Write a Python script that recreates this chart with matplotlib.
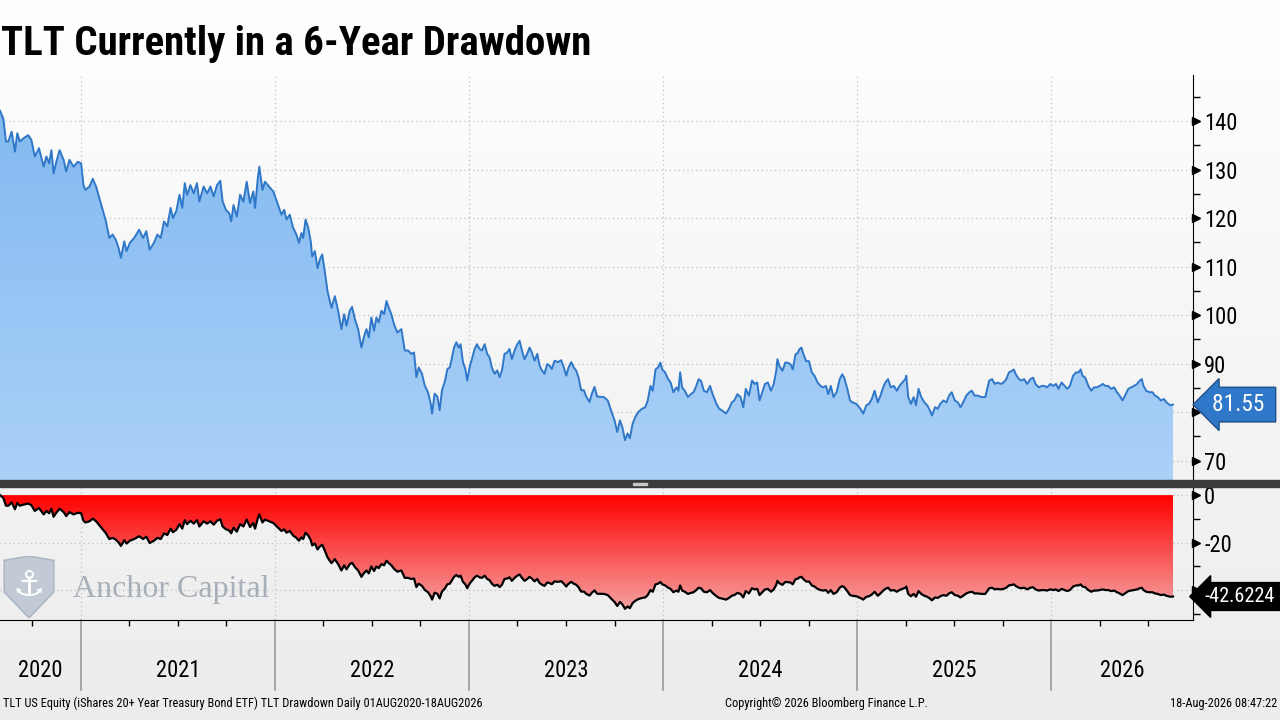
import matplotlib
matplotlib.use("Agg")
import matplotlib.pyplot as plt
import matplotlib.transforms as mtransforms
from matplotlib import font_manager
from matplotlib.colors import LinearSegmentedColormap
from matplotlib.patches import Rectangle, Polygon
from matplotlib.ticker import MultipleLocator, FixedLocator
import numpy as np

# ---- data (fractional year, TLT close) ----
dates = [
    2020.584, 2020.601, 2020.615, 2020.627, 2020.644, 2020.661, 2020.673, 2020.686, 2020.703, 2020.729,
    2020.746, 2020.763, 2020.785, 2020.809, 2020.823, 2020.837, 2020.849, 2020.860, 2020.874, 2020.891,
    2020.912, 2020.925, 2020.942, 2020.963, 2020.985,
    2021.002, 2021.014, 2021.024, 2021.045, 2021.062, 2021.079, 2021.096, 2021.113, 2021.130, 2021.147,
    2021.164, 2021.181, 2021.195, 2021.207, 2021.224, 2021.236, 2021.253, 2021.275, 2021.301, 2021.321,
    2021.338, 2021.355, 2021.377, 2021.395, 2021.412, 2021.429, 2021.446, 2021.463, 2021.475, 2021.492,
    2021.509, 2021.523, 2021.536, 2021.548, 2021.565, 2021.582, 2021.599, 2021.611, 2021.633, 2021.651,
    2021.668, 2021.685, 2021.702, 2021.719, 2021.731, 2021.748, 2021.765, 2021.775, 2021.787, 2021.804,
    2021.821, 2021.838, 2021.855, 2021.872, 2021.889, 2021.898, 2021.912, 2021.920, 2021.936, 2021.949,
    2021.970, 2021.992,
    2022.034, 2022.048, 2022.060, 2022.077, 2022.094, 2022.111, 2022.124, 2022.137, 2022.146, 2022.158,
    2022.172, 2022.185, 2022.192, 2022.206, 2022.220, 2022.232, 2022.244, 2022.257, 2022.271, 2022.283,
    2022.292, 2022.309, 2022.326, 2022.343, 2022.357, 2022.369, 2022.386, 2022.398, 2022.412, 2022.429,
    2022.446, 2022.460, 2022.472, 2022.484, 2022.497, 2022.511, 2022.523, 2022.535, 2022.549, 2022.563,
    2022.575, 2022.587, 2022.600, 2022.614, 2022.631, 2022.652, 2022.669, 2022.686, 2022.703, 2022.717,
    2022.729, 2022.741, 2022.758, 2022.772, 2022.789, 2022.803, 2022.810, 2022.823, 2022.837, 2022.849,
    2022.861, 2022.875, 2022.889, 2022.901, 2022.909, 2022.923, 2022.935, 2022.947, 2022.957, 2022.969,
    2022.981, 2022.991,
    2023.003, 2023.015, 2023.029, 2023.041, 2023.055, 2023.067, 2023.081, 2023.094, 2023.106, 2023.118,
    2023.132, 2023.146, 2023.158, 2023.170, 2023.183, 2023.197, 2023.209, 2023.221, 2023.235, 2023.249,
    2023.261, 2023.273, 2023.286, 2023.300, 2023.312, 2023.324, 2023.338, 2023.352, 2023.364, 2023.376,
    2023.389, 2023.403, 2023.415, 2023.427, 2023.441, 2023.458, 2023.475, 2023.489, 2023.501, 2023.513,
    2023.527, 2023.540, 2023.552, 2023.564, 2023.578, 2023.592, 2023.604, 2023.621, 2023.633, 2023.647,
    2023.660, 2023.695, 2023.715, 2023.735, 2023.750, 2023.764, 2023.778, 2023.790, 2023.804, 2023.817,
    2023.829, 2023.843, 2023.857, 2023.872, 2023.892, 2023.908, 2023.921, 2023.935, 2023.947, 2023.961,
    2023.974, 2023.986, 2023.996,
    2024.010, 2024.026, 2024.039, 2024.053, 2024.069, 2024.079, 2024.088, 2024.098, 2024.112, 2024.128,
    2024.143, 2024.157, 2024.171, 2024.183, 2024.196, 2024.210, 2024.226, 2024.242, 2024.255, 2024.275,
    2024.289, 2024.305, 2024.324, 2024.340, 2024.354, 2024.367, 2024.383, 2024.399, 2024.413, 2024.426,
    2024.442, 2024.458, 2024.472, 2024.485, 2024.497, 2024.511, 2024.525, 2024.540, 2024.556, 2024.570,
    2024.583, 2024.589, 2024.599, 2024.615, 2024.629, 2024.642, 2024.658, 2024.668, 2024.682, 2024.694,
    2024.701, 2024.713, 2024.721, 2024.737, 2024.752, 2024.766, 2024.780, 2024.796, 2024.811, 2024.825,
    2024.839, 2024.851, 2024.864, 2024.878, 2024.894, 2024.910, 2024.923, 2024.933, 2024.949, 2024.963,
    2024.976, 2024.996,
    2025.016, 2025.031, 2025.047, 2025.061, 2025.075, 2025.090, 2025.106, 2025.120, 2025.134, 2025.145,
    2025.159, 2025.173, 2025.189, 2025.204, 2025.218, 2025.232, 2025.248, 2025.253, 2025.263, 2025.277,
    2025.291, 2025.303, 2025.316, 2025.330, 2025.346, 2025.361, 2025.375, 2025.385, 2025.401, 2025.415,
    2025.428, 2025.444, 2025.460, 2025.473, 2025.487, 2025.503, 2025.519, 2025.532, 2025.546, 2025.562,
    2025.578, 2025.591, 2025.605, 2025.621, 2025.640, 2025.660, 2025.670, 2025.680, 2025.695, 2025.709,
    2025.723, 2025.739, 2025.754, 2025.768, 2025.782, 2025.798, 2025.807, 2025.817, 2025.833, 2025.847,
    2025.860, 2025.876, 2025.892, 2025.906, 2025.919, 2025.935, 2025.951, 2025.965, 2025.978, 2025.994,
    2026.010, 2026.024, 2026.037, 2026.053, 2026.069, 2026.082, 2026.096, 2026.112, 2026.128, 2026.141,
    2026.151, 2026.161, 2026.175, 2026.191, 2026.206, 2026.220, 2026.234, 2026.250, 2026.265, 2026.279,
    2026.293, 2026.308, 2026.324, 2026.338, 2026.352, 2026.367, 2026.383, 2026.397, 2026.411, 2026.426,
    2026.442, 2026.456, 2026.466, 2026.475, 2026.489, 2026.505, 2026.521, 2026.534, 2026.548, 2026.564,
    2026.580, 2026.593, 2026.613, 2026.627,
]
tlt_price = [
    142.13, 140.5, 135.8, 135.8, 137.8, 133.7, 137.5, 135.8, 136.4, 137.1,
    136.1, 132.7, 134.4, 130.6, 132.7, 131.3, 134.0, 129.2, 131.6, 134.0,
    132.0, 129.6, 132.0, 130.6, 131.6,
    131.3, 126.8, 125.8, 126.5, 128.1, 126.5, 124.1, 121.7, 119.3, 115.9,
    116.6, 115.5, 113.8, 111.8, 115.2, 113.2, 114.9, 115.9, 117.6, 115.9,
    117.3, 113.5, 114.9, 116.6, 115.9, 119.3, 118.3, 122.1, 120.0, 121.4,
    124.8, 122.1, 127.2, 124.8, 126.8, 125.1, 127.2, 123.4, 126.5, 125.1,
    126.5, 124.5, 126.8, 127.7, 123.4, 121.7, 121.0, 119.3, 122.7, 120.3,
    124.8, 123.4, 127.5, 123.1, 125.5, 122.1, 128.2, 130.6, 125.8, 127.5,
    126.5, 125.5,
    120.7, 121.7, 119.7, 120.7, 118.0, 116.6, 114.9, 116.9, 115.9, 119.7,
    118.0, 115.2, 112.1, 113.2, 109.7, 111.5, 112.5, 109.1, 105.0, 102.9,
    101.5, 103.9, 100.9, 97.1, 100.2, 97.8, 100.9, 101.7, 99.2, 97.1,
    93.3, 95.7, 97.1, 95.4, 99.5, 96.8, 99.5, 98.5, 100.9, 100.2,
    102.9, 101.5, 100.2, 98.1, 96.4, 97.1, 92.7, 92.7, 92.0, 92.3,
    87.2, 89.2, 87.9, 85.5, 84.1, 81.7, 79.7, 83.8, 83.2, 80.4,
    84.5, 86.2, 88.9, 89.2, 90.6, 93.3, 94.4, 93.3, 94.0, 90.3,
    88.9, 86.5,
    89.2, 90.9, 93.0, 94.0, 93.0, 92.7, 94.0, 92.0, 91.3, 89.2,
    87.9, 88.6, 87.2, 88.6, 92.0, 92.3, 93.0, 90.9, 92.7, 94.0,
    94.7, 92.7, 90.9, 92.0, 93.3, 92.3, 90.6, 92.0, 89.6, 88.6,
    87.9, 89.9, 89.6, 88.9, 90.6, 90.3, 90.7, 89.2, 87.5, 89.2,
    90.3, 89.2, 88.6, 87.2, 84.5, 84.5, 83.2, 82.1, 83.8, 85.2,
    83.2, 83.1, 82.4, 80.0, 78.3, 75.9, 78.3, 76.9, 74.2, 75.6,
    74.6, 77.6, 79.0, 80.0, 80.7, 81.0, 82.4, 85.4, 84.4, 88.8,
    89.2, 90.2, 88.8,
    88.2, 86.8, 86.1, 84.1, 85.1, 84.4, 88.2, 85.1, 84.4, 83.1,
    83.7, 84.1, 85.4, 86.8, 86.4, 84.4, 84.1, 85.4, 83.7, 81.7,
    80.7, 80.3, 79.7, 80.7, 82.0, 82.4, 83.7, 83.1, 81.0, 84.8,
    83.4, 86.5, 85.8, 86.1, 82.4, 84.1, 85.8, 86.1, 84.4, 85.8,
    88.5, 90.9, 89.5, 88.5, 90.2, 90.2, 89.8, 88.8, 91.9, 92.2,
    92.9, 93.3, 92.2, 90.5, 90.5, 88.2, 87.5, 86.1, 85.4, 85.1,
    85.4, 83.7, 85.4, 83.1, 84.1, 86.8, 87.8, 87.1, 84.8, 82.4,
    82.0, 81.7,
    80.7, 79.7, 81.4, 81.7, 82.7, 84.4, 82.0, 83.4, 85.1, 86.1,
    86.8, 85.1, 85.4, 84.4, 85.4, 86.1, 86.8, 87.5, 83.1, 81.7,
    83.1, 81.4, 84.8, 83.1, 82.0, 81.4, 80.3, 79.3, 81.0, 80.7,
    81.7, 82.4, 82.0, 83.4, 84.1, 82.4, 82.0, 81.0, 82.0, 83.4,
    84.1, 84.4, 83.4, 83.4, 83.1, 83.1, 84.8, 86.5, 86.8, 85.8,
    86.1, 85.8, 86.1, 86.8, 88.2, 88.5, 88.8, 87.8, 86.8, 86.5,
    86.8, 85.8, 86.8, 87.1, 85.8, 85.1, 85.4, 85.4, 85.1, 85.8,
    85.4, 85.8, 84.8, 86.1, 85.4, 84.8, 85.4, 87.5, 88.2, 88.2,
    88.8, 87.5, 87.1, 85.4, 84.4, 85.1, 85.1, 85.4, 85.8, 85.4,
    85.4, 84.8, 85.1, 84.1, 83.4, 82.4, 83.7, 84.8, 85.1, 85.4,
    85.8, 86.5, 86.8, 85.4, 84.4, 84.1, 84.1, 83.4, 83.1, 82.4,
    82.7, 82.0, 81.4, 81.55,
]
last_price_label = "81.55"
last_drawdown_label = "-42.6224"
year_starts = [2021, 2022, 2023, 2024, 2025, 2026]
year_labels = ["2020", "2021", "2022", "2023", "2024", "2025", "2026"]
price_ticks = [70, 80, 90, 100, 110, 120, 130, 140]
price_labels = ["70", "", "90", "100", "110", "120", "130", "140"]
dd_ticks = [0, -20, -40]
dd_labels = ["0", "-20", ""]

title = "TLT Currently in a 6-Year Drawdown"
footer_left = "TLT US Equity (iShares 20+ Year Treasury Bond ETF) TLT Drawdown Daily 01AUG2020-18AUG2026"
footer_mid = "Copyright\u00a9 2026 Bloomberg Finance L.P."
footer_right = "18-Aug-2026 08:47:22"

x = np.array(dates)
price = np.array(tlt_price)
drawdown = (price / np.maximum.accumulate(price) - 1) * 100

# ---- fonts: prefer a narrow face if one is installed ----
names = {f.name for f in font_manager.fontManager.ttflist}
SANS = "Liberation Sans" if "Liberation Sans" in names else "DejaVu Sans"
NARROW = SANS
for cand in ["Liberation Sans Narrow", "Roboto Condensed", "Open Sans Condensed",
             "DejaVu Sans Condensed", "Noto Sans Condensed"]:
    if cand in names:
        NARROW = cand
        break
SERIF = "Liberation Serif" if "Liberation Serif" in names else "DejaVu Serif"
is_narrow = NARROW != SANS
k = 1.12 if is_narrow else 1.0   # narrow faces can be set a little larger

W, H = 1280, 720
def fx(px):
    return px / W
def fy(py):
    return 1 - py / H

fig = plt.figure(figsize=(12.8, 7.2), dpi=100)

# soft grey background gradient
bg = fig.add_axes([0, 0, 1, 1], zorder=-10)
bg.imshow(np.linspace(0, 1, 256).reshape(-1, 1), aspect="auto", extent=[0, 1, 0, 1],
          cmap=LinearSegmentedColormap.from_list("bg", ["#ffffff", "#ececec"]), origin="upper")
bg.axis("off")

ax1 = fig.add_axes([0, fy(480), fx(1193), (480 - 75) / H], facecolor="none")
ax2 = fig.add_axes([0, fy(620), fx(1193), (620 - 488) / H], facecolor="none")

xmin, xmax = 2020.584, 2026.73


def gradient_fill(ax, xs, ys, base, colors, lo, hi):
    poly = ax.fill_between(xs, ys, base, facecolor="none", edgecolor="none")
    cmap = LinearSegmentedColormap.from_list("g", colors)
    img = ax.imshow(np.linspace(0, 1, 256).reshape(-1, 1), cmap=cmap, aspect="auto",
                    origin="lower", extent=[xs[0], xs[-1], lo, hi], zorder=1)
    img.set_clip_path(poly.get_paths()[0], ax.transData)


grid_kw = dict(color="#c0c0c0", lw=0.9, ls=(0, (1, 2.5)), zorder=0.5)

# ---- top panel: price ----
gradient_fill(ax1, x, price, 60, ["#abd1f8", "#82b9f0"], 66, 143)
ax1.plot(x, price, color="#2f77c9", lw=1.4, zorder=3)
for v in price_ticks:
    ax1.axhline(v, **grid_kw)
for ys in year_starts:
    ax1.axvline(ys, **grid_kw)
ax1.set_xlim(xmin, xmax)
ax1.set_ylim(66, 149.5)

# ---- bottom panel: drawdown ----
gradient_fill(ax2, x, drawdown, 0, ["#f6a8a8", "#ff0000"], -50, 0)
ax2.plot(x, drawdown, color="black", lw=1.6, zorder=3)
for v in dd_ticks:
    ax2.axhline(v, **grid_kw)
for ys in year_starts:
    ax2.axvline(ys, **grid_kw)
ax2.set_xlim(xmin, xmax)
ax2.set_ylim(-52.5, 3)

for ax, ticks, labels, minor in [(ax1, price_ticks, price_labels, 5), (ax2, dd_ticks, dd_labels, 10)]:
    for s in ["left", "top"]:
        ax.spines[s].set_visible(False)
    ax.spines["right"].set_color("black")
    ax.yaxis.tick_right()
    ax.set_yticks(ticks)
    ax.set_yticklabels(labels, family=NARROW, fontsize=14.5 * k)
    ax.yaxis.set_minor_locator(MultipleLocator(minor))
    ax.tick_params(axis="y", which="major", length=0, pad=8)
    ax.tick_params(axis="y", which="minor", length=5, width=1, direction="out")
    tr = mtransforms.offset_copy(mtransforms.blended_transform_factory(ax.transAxes, ax.transData),
                                 fig=fig, x=3, units="dots")
    ax.plot([1.0] * len(ticks), ticks, ls="none", marker=">", ms=5.5, color="black",
            transform=tr, clip_on=False, zorder=6)

ax1.spines["bottom"].set_visible(False)
ax1.tick_params(axis="x", which="both", length=0, labelbottom=False)
ax2.spines["bottom"].set_color("black")
quarters = [yr + q for yr in range(2020, 2027) for q in (0.25, 0.5, 0.75) if xmin < yr + q < xmax]
ax2.xaxis.set_major_locator(FixedLocator([]))
ax2.xaxis.set_minor_locator(FixedLocator(quarters))
ax2.tick_params(axis="x", which="minor", length=4, width=1, direction="out", labelbottom=False)

# year separators and labels below the chart
xtr = mtransforms.blended_transform_factory(ax2.transData, ax2.transAxes)
for ys in year_starts:
    ax2.plot([ys, ys], [0, -0.53], color="#9a9a9a", lw=1.2, transform=xtr, clip_on=False)
edges = [xmin] + year_starts + [xmax]
for lab, a, b in zip(year_labels, edges[:-1], edges[1:]):
    ax2.text((a + b) / 2, -0.38, lab, transform=xtr, ha="center", va="center",
             fontsize=14.5 * k, family=NARROW)

# last value tags
tr1 = mtransforms.blended_transform_factory(ax1.transAxes, ax1.transData)
ax1.text(1.016, price[-1], last_price_label + " ", transform=tr1, ha="left", va="center",
         color="white", fontsize=15 * k, family=NARROW, clip_on=False, zorder=10,
         bbox=dict(boxstyle="larrow,pad=0.25", fc="#2f77c9", ec="#1f4f86", lw=1))
tr2 = mtransforms.blended_transform_factory(ax2.transAxes, ax2.transData)
ax2.text(1.010, drawdown[-1], last_drawdown_label, transform=tr2, ha="left", va="center",
         color="white", fontsize=13 * k, family=NARROW, clip_on=False, zorder=10,
         bbox=dict(boxstyle="larrow,pad=0.22", fc="black", ec="black", lw=1))

# panel separator
fig.add_artist(Rectangle((0, fy(487)), 1, 7 / H, transform=fig.transFigure,
                         color="#3b3b3b", zorder=20))
fig.add_artist(Rectangle((fx(633), fy(484.5)), fx(14), 2 / H, transform=fig.transFigure,
                         color="#c8c8c8", zorder=21))

# watermark
ax2.text(0.061, 0.23, "Anchor Capital", transform=ax2.transAxes, fontsize=23,
         family=SERIF, color="#a0a8b2", alpha=0.9, va="center", ha="left", zorder=8)
logo = fig.add_axes([fx(2), fy(618), fx(54), 62 / H], zorder=30)
logo.add_patch(Polygon([(0.04, 0.93), (0.5, 1.0), (0.96, 0.93), (0.96, 0.42), (0.5, 0.0), (0.04, 0.42)],
                       closed=True, fc="#b9c4d1", ec="#9fabba", alpha=0.85))
logo.text(0.5, 0.52, "\u2693", ha="center", va="center", fontsize=26, color="white",
          family="DejaVu Sans")
logo.set_xlim(0, 1)
logo.set_ylim(0, 1)
logo.axis("off")

# title and footer
fig.text(0.001, fy(55), title, ha="left", va="baseline", fontsize=26.3 * k,
         fontweight="bold", family=NARROW)
fig.text(fx(3), fy(703), footer_left, ha="left", va="center", fontsize=8.0 * k, family=NARROW)
fig.text(fx(725), fy(703), footer_mid, ha="left", va="center", fontsize=8.0 * k, family=NARROW)
fig.text(fx(1277), fy(703), footer_right, ha="right", va="center", fontsize=8.0 * k, family=NARROW)

fig.savefig("out.png", dpi=100)
